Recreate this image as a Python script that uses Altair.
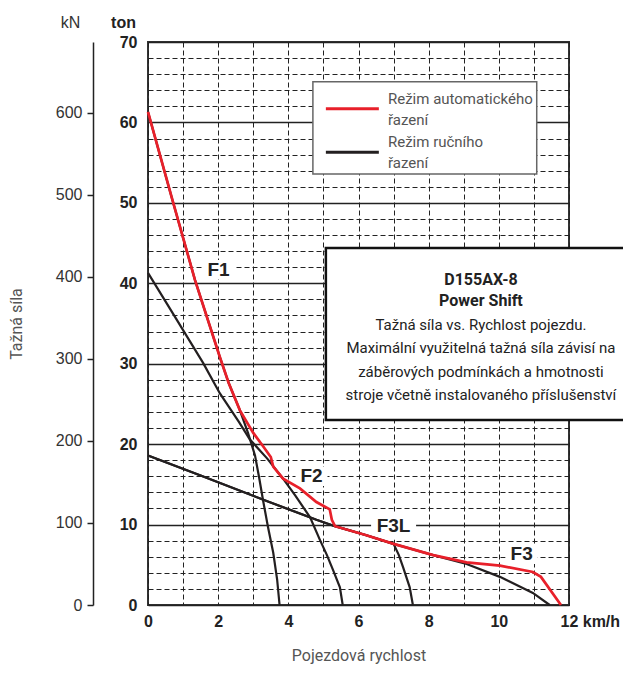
import altair as alt
import pandas as pd

# ---------------- data (speed km/h, drawbar pull ton) ----------------
MODE_AUTO = "Režim automatického řazení"
MODE_MAN = "Režim ručního řazení"

auto_v = [0, 0.7, 1.34, 2.05, 2.3, 2.62, 3.0, 3.27, 3.5, 3.57, 3.85, 4.33, 4.8, 5.18, 5.24, 5.33, 6.2, 7.0, 8.13, 9.08, 10.03, 10.97, 11.2, 11.77]
auto_t = [61.3, 50.3, 40.4, 30.8, 27.6, 24.2, 21.4, 19.8, 18.4, 17.2, 15.7, 14.5, 12.8, 11.9, 10.6, 9.8, 8.7, 7.6, 6.2, 5.3, 4.9, 4.1, 3.5, 0]

f1_v = [0, 0.7, 1.34, 2.05, 2.3, 2.62, 2.85, 3.05, 3.17, 3.28, 3.42, 3.57, 3.68, 3.75]
f1_t = [61.3, 50.3, 40.4, 30.8, 27.6, 24.2, 21.4, 18.6, 15.8, 13.0, 9.7, 6.5, 3.2, 0]

f2_v = [0, 0.8, 1.57, 2.05, 2.6, 2.9, 3.4, 3.85, 4.2, 4.62, 4.9, 5.1, 5.27, 5.47, 5.55]
f2_t = [41.3, 35.6, 30.1, 26.3, 22.7, 20.6, 18.2, 15.7, 13.6, 10.9, 8.1, 6.2, 4.4, 2.2, 0]

f3l_v = [0, 1.5, 3.4, 4.8, 5.33, 6.2, 7.0, 7.15, 7.27, 7.46, 7.55]
f3l_t = [18.6, 16.1, 12.9, 10.6, 9.8, 8.7, 7.6, 6.2, 4.7, 2.2, 0]

f3_v = [0, 1.5, 3.4, 4.8, 5.33, 6.2, 7.0, 8.13, 9.08, 10.03, 10.97, 11.45]
f3_t = [18.6, 16.1, 12.9, 10.6, 9.8, 8.7, 7.6, 6.2, 5.1, 3.5, 1.5, 0]

gear_labels = ["F1", "F2", "F3L", "F3"]
gear_v = [2.01, 4.66, 7.0, 10.65]
gear_t = [41.7, 16.0, 9.8, 6.3]

kn_ticks = [0, 100, 200, 300, 400, 500, 600]
ton_ticks = list(range(0, 71, 2))
speed_ticks = list(range(0, 13))

# legend box (drawn in data space)
legend_modes = [MODE_AUTO, MODE_MAN]
legend_lines = [["Režim automatického", "řazení"], ["Režim ručního", "řazení"]]
legend_box_v = [4.70, 11.08]
legend_box_t = [65.05, 53.6]
legend_sym_v = [5.07, 6.58]
legend_sym_t = [61.7, 56.3]
legend_text_v = 6.84
legend_text_t = [62.3, 57.0]

# info box
info_box_v = [5.07, 13.9]
info_box_t = [44.4, 23.0]
info_title = ["D155AX-8", "Power Shift"]
info_text = [
    "Tažná síla vs. Rychlost pojezdu.",
    "Maximální využitelná tažná síla závisí na",
    "záběrových podmínkách a hmotnosti",
    "stroje včetně instalovaného příslušenství",
]
info_title_pos = [9.49, 39.8]
info_text_pos = [9.49, 34.2]

# ---------------- tables ----------------
rows = []
for name, mode, vs, ts in [
    ("F1", MODE_MAN, f1_v, f1_t),
    ("F2", MODE_MAN, f2_v, f2_t),
    ("F3L", MODE_MAN, f3l_v, f3l_t),
    ("F3", MODE_MAN, f3_v, f3_t),
    ("AUTO", MODE_AUTO, auto_v, auto_t),
]:
    for i, (v, t) in enumerate(zip(vs, ts)):
        rows.append({"curve": name, "mode": mode, "v": v, "t": t, "i": i})
curves = pd.DataFrame(rows)
labels_df = pd.DataFrame({"label": gear_labels, "v": gear_v, "t": gear_t})
box_df = pd.DataFrame({"v": [info_box_v[0]], "v2": [info_box_v[1]], "t": [info_box_t[0]], "t2": [info_box_t[1]]})
lbox_df = pd.DataFrame({"v": [legend_box_v[0]], "v2": [legend_box_v[1]], "t": [legend_box_t[0]], "t2": [legend_box_t[1]]})
lsym_df = pd.DataFrame({"mode": legend_modes, "v": [legend_sym_v[0]] * 2, "v2": [legend_sym_v[1]] * 2, "t": legend_sym_t})
ltext_df = pd.DataFrame({"lines": legend_lines, "v": [legend_text_v] * 2, "t": legend_text_t})
info_title_df = pd.DataFrame({"v": [info_title_pos[0]], "t": [info_title_pos[1]]})
info_text_df = pd.DataFrame({"v": [info_text_pos[0]], "t": [info_text_pos[1]]})
kn_df = pd.DataFrame({"kn": kn_ticks})

BASE = "Liberation Sans"
COND = "Roboto"

x_axis = alt.Axis(
    values=speed_ticks,
    labelExpr="datum.value % 2 ? '' : (datum.value == 12 ? '12 km/h' : datum.label)",
    labelAlign={"condition": {"test": "datum.value == 12", "value": "left"}, "value": "center"},
    labelOffset={"condition": {"test": "datum.value == 12", "value": -9}, "value": 0},
    grid=True, gridDash=[5, 3], gridColor="#222", gridWidth=1,
    ticks=False, tickSize=0, domain=False, labelFlush=False,
    labelFont=BASE, labelFontWeight="bold", labelFontSize=16, labelColor="#222",
    labelPadding=8, labelOverlap=False,
    title="Pojezdová rychlost", titleFont=COND, titleFontWeight="normal",
    titleFontSize=16, titleColor="#555", titlePadding=18,
)
ton_axis = alt.Axis(
    values=ton_ticks,
    labelExpr="datum.value % 10 ? '' : datum.label",
    grid=True,
    gridDash={"condition": {"test": "datum.value % 10 == 0", "value": [1, 0]}, "value": [5, 3]},
    gridWidth={"condition": {"test": "datum.value % 10 == 0", "value": 1.4}, "value": 1},
    gridColor="#222",
    ticks=False, tickSize=0, domain=False, labelFlush=False,
    labelFont=BASE, labelFontWeight="bold", labelFontSize=16, labelColor="#222",
    labelPadding=11, labelOverlap=False,
    title="ton", titleAngle=0, titleX=-25, titleY=-15, titleAlign="center",
    titleBaseline="alphabetic", titleFont=BASE, titleFontWeight="bold",
    titleFontSize=16, titleColor="#222",
)

X = alt.X("v:Q", scale=alt.Scale(domain=[0, 12], nice=False, zero=False), axis=x_axis)
Y = alt.Y("t:Q", scale=alt.Scale(domain=[0, 70], nice=False), axis=ton_axis)

color = alt.Color(
    "mode:N",
    scale=alt.Scale(domain=[MODE_AUTO, MODE_MAN], range=["#e8202a", "#231f20"]),
    legend=None,
)

label_bg = (
    alt.Chart(labels_df)
    .transform_calculate(bg="pow(length(datum.label) * 13 + 6, 2)")
    .mark_point(shape="M-1,-0.6L1,-0.6L1,0.6L-1,0.6Z", filled=True, fill="white", opacity=1, strokeWidth=0)
    .encode(x=X, y=Y, size=alt.Size("bg:Q", scale=None))
)

manual = (
    alt.Chart(curves).transform_filter(alt.datum.mode == MODE_MAN)
    .mark_line(strokeWidth=2.2)
    .encode(x=X, y=Y, color=color, detail="curve:N", order="i:Q")
)
auto = (
    alt.Chart(curves).transform_filter(alt.datum.mode == MODE_AUTO)
    .mark_line(strokeWidth=2.7)
    .encode(x=X, y=Y, color=color, detail="curve:N", order="i:Q")
)

gear_text = (
    alt.Chart(labels_df)
    .mark_text(font=BASE, fontWeight="bold", fontSize=19, color="#222", baseline="middle", align="center")
    .encode(x=X, y=Y, text="label:N")
)

# legend
lbox = (
    alt.Chart(lbox_df)
    .mark_rect(fill="white", stroke="#666", strokeWidth=1.5)
    .encode(x=X, x2="v2:Q", y=Y, y2="t2:Q")
)
lsym = (
    alt.Chart(lsym_df)
    .mark_rule(strokeWidth=3)
    .encode(x=X, x2="v2:Q", y=Y, color=color)
)
ltext = (
    alt.Chart(ltext_df)
    .mark_text(font=COND, fontSize=15, color="#555", align="left", baseline="alphabetic", lineHeight=21)
    .encode(x=X, y=Y, text="lines:N")
)

# info box
box = (
    alt.Chart(box_df)
    .mark_rect(fill="white", stroke="#111", strokeWidth=2.5)
    .encode(x=X, x2="v2:Q", y=Y, y2="t2:Q")
)
info_t = (
    alt.Chart(info_title_df)
    .mark_text(text=info_title, font=COND, fontWeight="bold", fontSize=16, color="#222",
               align="center", baseline="alphabetic", lineHeight=21)
    .encode(x=X, y=Y)
)
info_b = (
    alt.Chart(info_text_df)
    .mark_text(text=info_text, font=COND, fontSize=15, color="#222",
               align="center", baseline="alphabetic", lineHeight=23.5)
    .encode(x=X, y=Y)
)

main = alt.layer(label_bg, manual, auto, gear_text, lbox, lsym, ltext, box, info_t, info_b)

kn_scale = alt.Scale(domain=[0, 70 * 9.80665], nice=False)
kn_layer = (
    alt.Chart(kn_df).mark_point(opacity=0)
    .encode(y=alt.Y("kn:Q", scale=kn_scale, axis=alt.Axis(
        orient="left", offset=55, values=kn_ticks, grid=False, labelFlush=False,
        ticks=True, tickSize=6, tickColor="#222", tickWidth=1.5,
        domain=True, domainColor="#222", domainWidth=1.5,
        labelFont=BASE, labelFontSize=16, labelColor="#333", labelPadding=5,
        title="Tažná síla", titleFont=COND, titleFontWeight="normal",
        titleFontSize=16, titleColor="#555", titlePadding=31,
    )))
)
kn_title_layer = (
    alt.Chart(kn_df).mark_point(opacity=0)
    .encode(y=alt.Y("kn:Q", scale=kn_scale, axis=alt.Axis(
        orient="left", offset=55, grid=False, labels=False, ticks=False, domain=False,
        title="kN", titleAngle=0, titleX=-23, titleY=-15, titleAlign="center",
        titleBaseline="alphabetic", titleFont=BASE, titleFontWeight="normal",
        titleFontSize=16, titleColor="#333",
    )))
)

chart = (
    alt.layer(main, kn_layer, kn_title_layer)
    .resolve_scale(y="independent")
    .properties(
        width=421, height=563,
        autosize=alt.AutoSizeParams(type="none"),
        padding={"left": 140, "top": 34, "right": 54, "bottom": 60},
    )
    .configure_view(stroke="#333", strokeWidth=2)
)

chart.save("out.html", embed_options={"renderer": "svg", "actions": False})
